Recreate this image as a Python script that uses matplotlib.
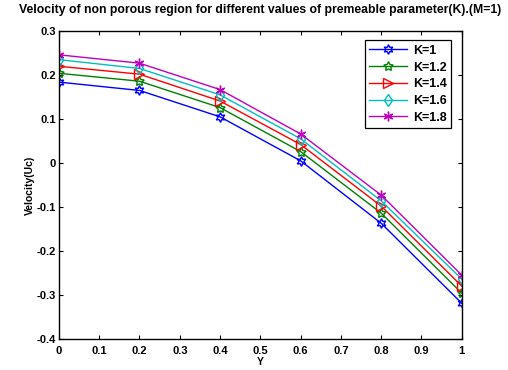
import matplotlib
matplotlib.use("Agg")
import matplotlib.pyplot as plt

# data
y_pos = [0, 0.2, 0.4, 0.6, 0.8, 1.0]
u_k1 = [0.184, 0.165, 0.105, 0.005, -0.137, -0.319]
u_k12 = [0.204, 0.186, 0.126, 0.026, -0.114, -0.296]
u_k14 = [0.220, 0.202, 0.141, 0.042, -0.098, -0.280]
u_k16 = [0.235, 0.215, 0.155, 0.055, -0.086, -0.264]
u_k18 = [0.246, 0.227, 0.167, 0.066, -0.073, -0.255]
labels = ["K=1", "K=1.2", "K=1.4", "K=1.6", "K=1.8"]

plt.rcParams['font.family'] = ['Liberation Sans', 'DejaVu Sans']
plt.rcParams['font.weight'] = 'bold'

fig = plt.figure(figsize=(5.08, 3.70), dpi=100)
ax = fig.add_axes([0.116, 0.084, 0.793, 0.832])

series = [u_k1, u_k12, u_k14, u_k16, u_k18]
colors = ['#0000ff', '#008000', '#ff0000', '#00bfbf', '#bf00bf']
# hexagram, pentagram, right triangle, diamond, asterisk (MATLAB style)
markers = [(6, 1, 0), (5, 1, 0), '>', 'd', (6, 2, 0)]
sizes = [7, 7, 6.5, 6.5, 7]
for vals, c, m, ms, lab in zip(series, colors, markers, sizes, labels):
    ax.plot(y_pos, vals, color=c, marker=m, markersize=ms, markerfacecolor='none',
            markeredgecolor=c, markeredgewidth=1, linewidth=1, label=lab)

ax.set_xlim(0, 1)
ax.set_ylim(-0.4, 0.3)
ax.set_xticks([0, 0.1, 0.2, 0.3, 0.4, 0.5, 0.6, 0.7, 0.8, 0.9, 1])
ax.set_xticklabels(['0', '0.1', '0.2', '0.3', '0.4', '0.5', '0.6', '0.7', '0.8', '0.9', '1'])
ax.set_yticks([-0.4, -0.3, -0.2, -0.1, 0, 0.1, 0.2, 0.3])
ax.set_yticklabels(['-0.4', '-0.3', '-0.2', '-0.1', '0', '0.1', '0.2', '0.3'])
ax.tick_params(direction='in', top=True, right=True, labelsize=8, length=3, width=0.8)
ax.tick_params(axis='x', pad=5)
ax.tick_params(axis='y', pad=2)
for sp in ax.spines.values():
    sp.set_linewidth(1.0)

ax.set_xlabel('Y', fontsize=7.5, fontweight='bold', labelpad=1)
ax.set_ylabel('Velocity(Uc)', fontsize=7.5, fontweight='bold', labelpad=1)
ax.set_title('Velocity of non porous region for different values of premeable parameter(K).(M=1)',
             fontsize=8.8, fontweight='bold', pad=13)

leg = ax.legend(loc='upper right', fontsize=9, fancybox=False, framealpha=1,
                edgecolor='black', handlelength=3.0, borderpad=0.35, labelspacing=0.38,
                handletextpad=0.5, bbox_to_anchor=(0.99, 0.99))
leg.get_frame().set_linewidth(0.9)

fig.savefig('out.png', dpi=100)
